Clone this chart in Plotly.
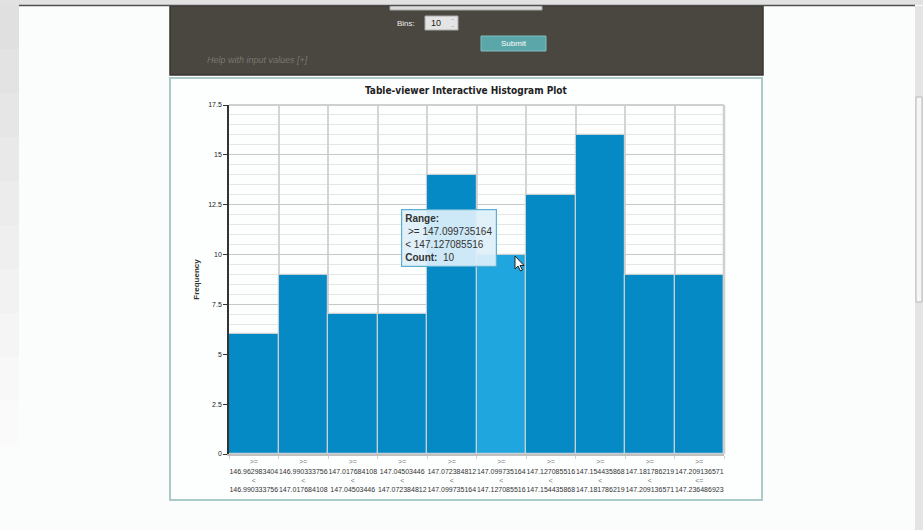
import plotly.graph_objects as go

# ---- data ----
bin_lower = ["146.962983404", "146.990333756", "147.017684108", "147.04503446",
             "147.072384812", "147.099735164", "147.127085516", "147.154435868",
             "147.181786219", "147.209136571"]
bin_upper = ["146.990333756", "147.017684108", "147.04503446", "147.072384812",
             "147.099735164", "147.127085516", "147.154435868", "147.181786219",
             "147.209136571", "147.236486923"]
counts = [6, 9, 7, 7, 14, 10, 13, 16, 9, 9]
highlight_index = 5
y_ticks = [0, 2.5, 5, 7.5, 10, 12.5, 15, 17.5]
y_tick_labels = ["0", "2.5", "5", "7.5", "10", "12.5", "15", "17.5"]

W, H = 923, 530
L, R, T, B = 229, 724, 105, 454


def fx(p):
    return (p - L) / (R - L)


def fy(p):
    return (B - p) / (B - T)


cats = [f"bin{i}" for i in range(len(counts))]
ticktext = []
for i, (lo, hi) in enumerate(zip(bin_lower, bin_upper)):
    last = i == len(counts) - 1
    op = "&lt;=" if last else "&lt;"
    ticktext.append(
        f"<span style='color:#777'>&gt;=</span><br>{lo}<br>"
        f"<span style='color:#777'>{op}</span><br>{hi}")

colors = ["#1fa6df" if i == highlight_index else "#058ac6" for i in range(len(counts))]

fig = go.Figure(go.Bar(
    x=cats, y=counts,
    marker=dict(color=colors, line=dict(color="#c9d0d4", width=1.2)),
    hoverinfo="skip",
))

shapes = []
greys = ["#e0e0e0", "#e3e3e3", "#e6e6e6", "#e9e9e9", "#ececec", "#efefef",
         "#f2f2f2", "#f5f5f5", "#f8f8f8", "#fafafa"]
for k, g in enumerate(greys):
    shapes.append(dict(type="rect", xref="paper", yref="paper", x0=fx(0), x1=fx(19),
                       y0=fy(5 + (k + 1) * 44), y1=fy(5 + k * 44),
                       fillcolor=g, line=dict(width=0), layer="below"))
# dark control panel
shapes.append(dict(type="rect", xref="paper", yref="paper", x0=fx(170), x1=fx(763), y0=fy(75), y1=fy(6),
                   fillcolor="#4a4640", line=dict(color="#38352f", width=1.5), layer="below"))
# plot type dropdown (cut off)
shapes.append(dict(type="rect", xref="paper", yref="paper", x0=fx(390), x1=fx(542), y0=fy(10), y1=fy(3),
                   fillcolor="#dcdcdc", line=dict(color="#aaaaaa", width=1), layer="below"))
shapes.append(dict(type="rect", xref="paper", yref="paper", x0=fx(0), x1=fx(W), y0=fy(5), y1=fy(0),
                   fillcolor="#e2e2e2", line=dict(width=0), layer="below"))
shapes.append(dict(type="line", xref="paper", yref="paper", x0=fx(19), x1=fx(915), y0=fy(5.5), y1=fy(5.5),
                   line=dict(color="#505050", width=1.5), layer="below"))
# bins input
shapes.append(dict(type="rect", xref="paper", yref="paper", x0=fx(425), x1=fx(458), y0=fy(30), y1=fy(16),
                   fillcolor="#e4e4e4", line=dict(color="#aaaaaa", width=1), layer="below"))
# submit button
shapes.append(dict(type="rect", xref="paper", yref="paper", x0=fx(481), x1=fx(546), y0=fy(51), y1=fy(36),
                   fillcolor="#5aa6a8", line=dict(color="#7fc0c0", width=1), layer="below"))
# chart panel border
shapes.append(dict(type="rect", xref="paper", yref="paper", x0=fx(170), x1=fx(762), y0=fy(500), y1=fy(78),
                   fillcolor="#fdfefe", line=dict(color="#abcaca", width=2), layer="below"))
# scrollbar
shapes.append(dict(type="rect", xref="paper", yref="paper", x0=fx(915), x1=fx(923), y0=fy(530), y1=fy(6),
                   fillcolor="#e4e4e4", line=dict(width=0), layer="below"))
shapes.append(dict(type="rect", xref="paper", yref="paper", x0=fx(916), x1=fx(922), y0=fy(302), y1=fy(97),
                   fillcolor="#f6f6f6", line=dict(color="#b8b8b8", width=1), layer="below"))
# plot frame top/right
shapes.append(dict(type="line", xref="paper", yref="paper", x0=0, x1=1, y0=1, y1=1,
                   line=dict(color="#cfcfcf", width=2)))
shapes.append(dict(type="line", xref="paper", yref="paper", x0=1, x1=1, y0=0, y1=1,
                   line=dict(color="#cfcfcf", width=2.5)))
# cursor
cx, cy = 515, 256
pts = [(0, 0), (0, 13), (3, 10), (5.5, 15), (7.5, 14), (5, 9.5), (9, 9.5)]
path = "M " + " L ".join(f"{fx(cx + a)},{fy(cy + b)}" for a, b in pts) + " Z"
shapes.append(dict(type="path", xref="paper", yref="paper", path=path,
                   fillcolor="white", line=dict(color="#222", width=1)))

annotations = [
    dict(text="<b>Table-viewer Interactive Histogram Plot</b>", xref="paper", yref="paper",
         x=fx(466), y=fy(90), xanchor="center", yanchor="middle", showarrow=False,
         font=dict(family="DejaVu Sans Condensed, Liberation Sans Narrow, Liberation Sans", size=10, color="#222")),
    dict(text="Bins:", xref="paper", yref="paper", x=fx(417), y=fy(23), xanchor="right", yanchor="middle",
         showarrow=False, font=dict(family="Liberation Sans", size=8, color="#eeeeee")),
    dict(text="10", xref="paper", yref="paper", x=fx(429), y=fy(23), xanchor="left", yanchor="middle",
         showarrow=False, font=dict(family="Liberation Sans", size=9, color="#222")),
    dict(text="⌃<br>⌄", xref="paper", yref="paper", x=fx(452), y=fy(23), xanchor="center", yanchor="middle",
         showarrow=False, font=dict(family="DejaVu Sans", size=4, color="#777")),
    dict(text="Submit", xref="paper", yref="paper", x=fx(513.5), y=fy(43.5), xanchor="center", yanchor="middle",
         showarrow=False, font=dict(family="Liberation Sans", size=8, color="#ffffff")),
    dict(text="<i>Help with input values [+]</i>", xref="paper", yref="paper", x=fx(205), y=fy(60),
         xanchor="left", yanchor="middle", showarrow=False,
         font=dict(family="Liberation Sans", size=9, color="#7a7771")),
    dict(text=f"<b>Range:</b><br> &gt;= {bin_lower[highlight_index]}<br>&lt; {bin_upper[highlight_index]}"
              f"<br><b>Count:</b>  {counts[highlight_index]}",
         xref="paper", yref="paper", x=fx(401), y=fy(209), xanchor="left", yanchor="top",
         showarrow=False, align="left", bgcolor="rgba(222,240,250,0.92)", bordercolor="#5aaed2",
         borderwidth=1.2, borderpad=3,
         font=dict(family="Liberation Sans", size=10, color="#333")),
]

fig.update_layout(
    width=W, height=H,
    margin=dict(l=L, r=W - R, t=T, b=H - B, pad=0),
    paper_bgcolor="#fbfdfd", plot_bgcolor="#ffffff",
    bargap=0, showlegend=False,
    shapes=shapes, annotations=annotations,
    font=dict(family="Liberation Sans", color="#333"),
    xaxis=dict(type="category", tickson="boundaries", tickvals=cats, ticktext=ticktext,
               showgrid=True, gridcolor="#d4d4d4", gridwidth=1.5,
               showline=True, linecolor="#c0c0c0", linewidth=2,
               ticks="outside", ticklen=3, tickcolor="#d0d0d0",
               tickfont=dict(size=7, color="#333"), tickangle=0, fixedrange=True,
               range=[-0.5, len(counts) - 0.5]),
    yaxis=dict(range=[0, 17.5], tickvals=y_ticks, ticktext=y_tick_labels,
               showgrid=True, gridcolor="#c8c8c8", gridwidth=1,
               minor=dict(dtick=0.5, showgrid=True, gridcolor="#e6e6e6", gridwidth=1),
               showline=True, linecolor="#333", linewidth=1.5,
               ticks="outside", ticklen=4, tickcolor="#333",
               tickfont=dict(size=7, color="#222"), zeroline=False,
               title=dict(text="<b>Frequency</b>", font=dict(size=8, color="#333"), standoff=7)),
)

fig.write_html("out.html", config={"displayModeBar": False},
               post_script="document.body.style.margin='0';document.body.style.overflow='hidden';")
